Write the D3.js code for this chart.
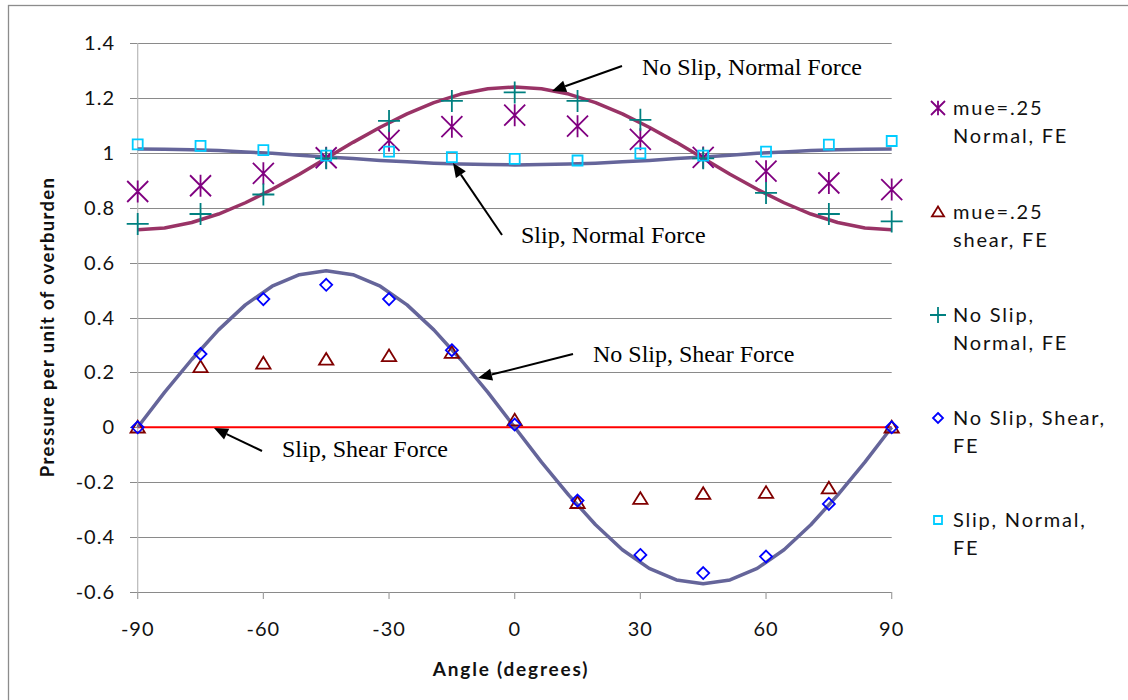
<!DOCTYPE html>
<html>
<head>
<meta charset="utf-8">
<script src="https://cdn.jsdelivr.net/npm/d3@7"></script>
<style>
  html, body { margin: 0; padding: 0; background: #fff; }
  svg { display: block; }
</style>
</head>
<body>
<svg id="chart" width="1128" height="700"></svg>
<script>
// ---------- DATA ----------
const feAngles = [-90, -75, -60, -45, -30, -15, 0, 15, 30, 45, 60, 75, 90];
const mueNormalFE   = [0.859, 0.88, 0.925, 0.982, 1.045, 1.095, 1.137, 1.097, 1.049, 0.983, 0.933, 0.89, 0.866];
const mueShearFE    = [0.0, 0.22, 0.233, 0.247, 0.26, 0.272, 0.026, -0.275, -0.26, -0.242, -0.238, -0.222, 0.0];
const noSlipNormalFE = [0.741, 0.777, 0.848, 0.98, 1.116, 1.189, 1.22, 1.189, 1.12, 0.98, 0.854, 0.777, 0.75];
const noSlipShearFE = [0.0, 0.267, 0.467, 0.519, 0.467, 0.281, 0.01, -0.267, -0.465, -0.531, -0.471, -0.279, 0.0];
const slipNormalFE  = [1.031, 1.025, 1.01, 0.99, 1.004, 0.984, 0.978, 0.972, 0.998, 0.99, 1.004, 1.03, 1.043];

const curveAngles = [-90, -83.6, -77.1, -70.7, -64.3, -57.9, -51.4, -45, -38.6, -32.1, -25.7, -19.3, -12.9, -6.4, 0,
                     6.4, 12.9, 19.3, 25.7, 32.1, 38.6, 45, 51.4, 57.9, 64.3, 70.7, 77.1, 83.6, 90];
const noSlipNormalCurve = [0.72, 0.726, 0.746, 0.777, 0.818, 0.867, 0.922, 0.98, 1.038, 1.093, 1.142, 1.183, 1.214, 1.233, 1.24,
                           1.233, 1.214, 1.183, 1.142, 1.093, 1.038, 0.98, 0.922, 0.867, 0.818, 0.777, 0.746, 0.726, 0.72];
const slipNormalCurve = [1.014, 1.013, 1.011, 1.008, 1.003, 0.998, 0.991, 0.985, 0.979, 0.972, 0.967, 0.962, 0.959, 0.957, 0.956,
                         0.957, 0.959, 0.962, 0.967, 0.972, 0.979, 0.985, 0.991, 0.998, 1.003, 1.008, 1.011, 1.013, 1.014];
const noSlipShearCurve = [0, 0.127, 0.247, 0.355, 0.446, 0.514, 0.556, 0.57, 0.556, 0.514, 0.446, 0.355, 0.247, 0.127, 0,
                          -0.127, -0.247, -0.355, -0.446, -0.514, -0.556, -0.57, -0.556, -0.514, -0.446, -0.355, -0.247, -0.127, 0];
const slipShearAngles = [-90, 90];
const slipShearCurve = [0, 0];

const xTicks = [-90, -60, -30, 0, 30, 60, 90];
const yTicks = [-0.6, -0.4, -0.2, 0, 0.2, 0.4, 0.6, 0.8, 1, 1.2, 1.4];

const legendLabels = [
  ["mue=.25", "Normal, FE"],
  ["mue=.25", "shear, FE"],
  ["No Slip,", "Normal, FE"],
  ["No Slip, Shear,", "FE"],
  ["Slip, Normal,", "FE"]
];

const annotations = [
  {text: "No Slip, Normal Force", tx: 642, ty: 75, from: [622, 66], to: [552, 91]},
  {text: "Slip, Normal Force", tx: 521, ty: 243, from: [502, 235], to: [453, 163]},
  {text: "No Slip, Shear Force", tx: 593, ty: 362, from: [573, 354], to: [478, 378]},
  {text: "Slip, Shear Force", tx: 282, ty: 457, from: [262, 451], to: [214, 428]}
];

// ---------- LAYOUT ----------
const svg = d3.select("#chart");
const x = d3.scaleLinear().domain([-90, 90]).range([137.7, 891.7]);
const y = d3.scaleLinear().domain([-0.6, 1.4]).range([592, 43]);

// outer frame
svg.append("rect").attr("x", 8.5).attr("y", 5.5).attr("width", 1130).attr("height", 700)
  .attr("fill", "none").attr("stroke", "#8c8c8c").attr("stroke-width", 1.3);

// gridlines (with left ticks)
const grid = svg.append("g");
grid.selectAll("line").data(yTicks).join("line")
  .attr("x1", 130).attr("x2", 891.7)
  .attr("y1", d => Math.round(y(d)) + 0.5).attr("y2", d => Math.round(y(d)) + 0.5)
  .attr("stroke", "#8a8a8a").attr("stroke-width", 1);

// vertical axis line
svg.append("line").attr("x1", 137.7).attr("x2", 137.7).attr("y1", y(1.4)).attr("y2", y(-0.6))
  .attr("stroke", "#b8b8b8").attr("stroke-width", 1.2);

// x axis ticks
svg.append("g").selectAll("line").data(xTicks).join("line")
  .attr("x1", d => x(d)).attr("x2", d => x(d))
  .attr("y1", y(-0.6)).attr("y2", y(-0.6) + 7)
  .attr("stroke", "#a0a0a0").attr("stroke-width", 1.2);

const tickFont = "Lato, 'Open Sans', sans-serif";
// y tick labels
svg.append("g").selectAll("text").data(yTicks).join("text")
  .attr("x", 115).attr("y", d => y(d) + 7)
  .attr("text-anchor", "end")
  .attr("font-family", tickFont).attr("font-size", 20).attr("letter-spacing", 1)
  .attr("fill", "#111")
  .text(d => String(+d.toFixed(1)));

// x tick labels
svg.append("g").selectAll("text").data(xTicks).join("text")
  .attr("x", d => x(d)).attr("y", 636)
  .attr("text-anchor", "middle")
  .attr("font-family", tickFont).attr("font-size", 20).attr("letter-spacing", 1)
  .attr("fill", "#111")
  .text(d => String(d));

// axis titles
svg.append("text").attr("x", 511).attr("y", 676).attr("text-anchor", "middle")
  .attr("font-family", tickFont).attr("font-weight", "bold").attr("font-size", 19).attr("letter-spacing", 1.8)
  .attr("fill", "#111").text("Angle (degrees)");
svg.append("text").attr("transform", "translate(54,327) rotate(-90)").attr("text-anchor", "middle")
  .attr("font-family", tickFont).attr("font-weight", "bold").attr("font-size", 18.5).attr("letter-spacing", 1.3)
  .attr("fill", "#111").text("Pressure per unit of overburden");

// ---------- LINES ----------
const line = (xs) => d3.line().x((d, i) => x(xs[i])).y(d => y(d));
svg.append("path").datum(slipShearCurve).attr("d", line(slipShearAngles))
  .attr("fill", "none").attr("stroke", "#ff0000").attr("stroke-width", 2);
svg.append("path").datum(noSlipShearCurve).attr("d", line(curveAngles))
  .attr("fill", "none").attr("stroke", "#65659a").attr("stroke-width", 3.5).attr("stroke-linejoin", "round");
svg.append("path").datum(slipNormalCurve).attr("d", line(curveAngles))
  .attr("fill", "none").attr("stroke", "#65659a").attr("stroke-width", 3.5).attr("stroke-linejoin", "round");
svg.append("path").datum(noSlipNormalCurve).attr("d", line(curveAngles))
  .attr("fill", "none").attr("stroke", "#993366").attr("stroke-width", 3.5).attr("stroke-linejoin", "round");

// ---------- MARKERS ----------
const markerPaths = {
  star: s => `M${-s},${-s}L${s},${s}M${-s},${s}L${s},${-s}M0,${-s * 1.05}L0,${s * 1.05}`,
  plus: s => `M${-s},0L${s},0M0,${-s}L0,${s}`,
  square: s => `M${-s},${-s}H${s}V${s}H${-s}Z`,
  diamond: s => `M0,${-s}L${s},0L0,${s}L${-s},0Z`,
  triangle: s => `M0,${-s}L${s * 1.1},${s * 0.8}L${-s * 1.1},${s * 0.8}Z`
};
const series = [
  {vals: mueNormalFE, shape: "star", color: "#800080", size: 10.5, leg: 7, sw: 1.8},
  {vals: mueShearFE, shape: "triangle", color: "#800000", size: 6.5, leg: 5.5, sw: 1.8},
  {vals: noSlipNormalFE, shape: "plus", color: "#008080", size: 11, leg: 8, sw: 1.8},
  {vals: noSlipShearFE, shape: "diamond", color: "#0000ff", size: 6, leg: 5, sw: 1.8},
  {vals: slipNormalFE, shape: "square", color: "#00ccff", size: 5, leg: 4, sw: 1.8}
];
const drawOrder = [1, 3, 0, 2, 4];
drawOrder.forEach(si => {
  const s = series[si];
  svg.append("g").selectAll("path").data(s.vals).join("path")
    .attr("transform", (d, i) => `translate(${x(feAngles[i])},${y(d)})`)
    .attr("d", markerPaths[s.shape](s.size))
    .attr("fill", "none").attr("stroke", s.color).attr("stroke-width", s.sw);
});

// ---------- LEGEND ----------
const legY = [108, 212, 315, 418, 520];
const leg = svg.append("g");
series.forEach((s, i) => {
  leg.append("path").attr("transform", `translate(938,${legY[i]})`)
    .attr("d", markerPaths[s.shape](s.leg))
    .attr("fill", "none").attr("stroke", s.color).attr("stroke-width", 1.8);
  legendLabels[i].forEach((t, j) => {
    leg.append("text").attr("x", 953).attr("y", legY[i] + 7 + j * 28)
      .attr("font-family", tickFont).attr("font-size", 20).attr("letter-spacing", 1.8)
      .attr("fill", "#111").text(t);
  });
});

// ---------- ANNOTATIONS ----------
const ann = svg.append("g");
annotations.forEach(a => {
  ann.append("text").attr("x", a.tx).attr("y", a.ty)
    .attr("font-family", "'Liberation Serif', 'Times New Roman', serif").attr("font-size", 24)
    .attr("fill", "#000").text(a.text);
  const [x1, y1] = a.from, [x2, y2] = a.to;
  const ang = Math.atan2(y2 - y1, x2 - x1);
  const L = 14, W = 6;
  const bx = x2 - L * Math.cos(ang), by = y2 - L * Math.sin(ang);
  ann.append("line").attr("x1", x1).attr("y1", y1).attr("x2", bx).attr("y2", by)
    .attr("stroke", "#000").attr("stroke-width", 2);
  const px = -Math.sin(ang) * W, py = Math.cos(ang) * W;
  ann.append("path")
    .attr("d", `M${x2},${y2}L${bx + px},${by + py}L${bx - px},${by - py}Z`)
    .attr("fill", "#000");
});
</script>
</body>
</html>
